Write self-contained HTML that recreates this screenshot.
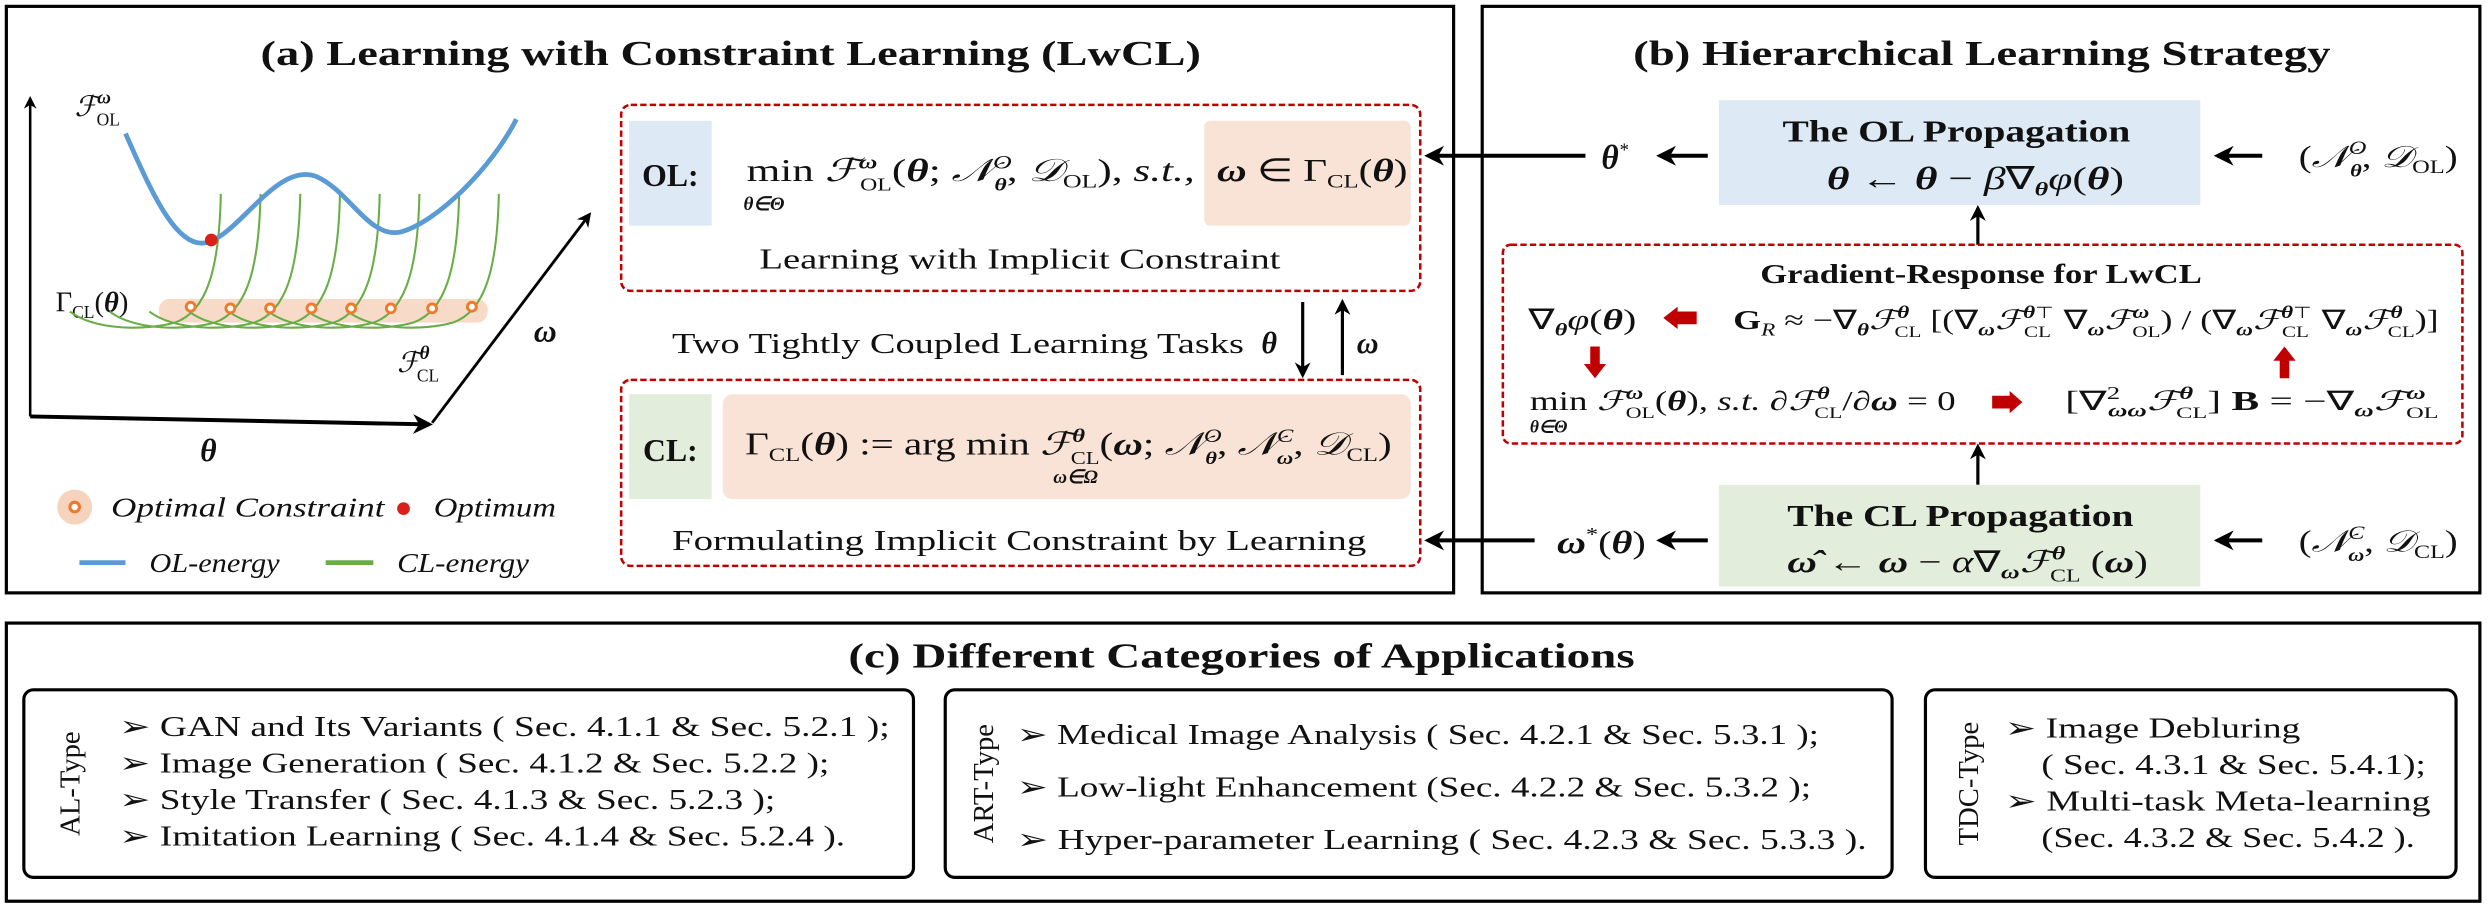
<!DOCTYPE html>
<html><head><meta charset="utf-8"><style>
html,body{margin:0;padding:0;background:#fff;}
svg{display:block;font-family:"Liberation Serif",serif;}
svg text{font-family:"Liberation Serif",serif;fill:#111;}
.b{font-weight:bold;}
.i{font-style:italic;}
</style></head><body>
<svg width="2491" height="906" viewBox="0 0 1568 570" preserveAspectRatio="none" xmlns="http://www.w3.org/2000/svg" font-family="Liberation Serif, serif">
<defs>
<marker id="ah" viewBox="0 0 10 10" refX="8" refY="5" markerWidth="5" markerHeight="5" orient="auto"><path d="M0,0 L10,5 L0,10 L3,5 z" fill="#000"/></marker>
</defs>
<rect x="4" y="4" width="911" height="369" fill="none" stroke="#000" stroke-width="2"/>
<rect x="933" y="4" width="628" height="369" fill="none" stroke="#000" stroke-width="2"/>
<rect x="4" y="392" width="1557" height="175" fill="none" stroke="#000" stroke-width="2"/>

<!-- (a) -->
<text x="164" y="41" font-size="22" class="b" textLength="592" lengthAdjust="spacingAndGlyphs">(a) Learning with Constraint Learning (LwCL)</text>
<line x1="19" y1="262" x2="19" y2="62" stroke="#000" stroke-width="1.6" marker-end="url(#ah)"/>
<line x1="19" y1="262" x2="270" y2="267" stroke="#000" stroke-width="2.5" marker-end="url(#ah)"/>
<line x1="272" y1="266" x2="371" y2="135" stroke="#000" stroke-width="1.8" marker-end="url(#ah)"/>
<text x="47" y="73" font-size="18" class="i">ℱ<tspan font-size="12" dy="-8" font-weight="bold">ω</tspan><tspan font-size="11" dx="-9" dy="14" font-style="normal">OL</tspan></text>
<text x="126" y="290" font-size="20" class="i b">θ</text>
<text x="336" y="215" font-size="20" class="i b">ω</text>
<text x="250" y="234" font-size="18" class="i">ℱ<tspan font-size="12" dy="-8" font-weight="bold">θ</tspan><tspan font-size="11" dx="-8" dy="14" font-style="normal">CL</tspan></text>
<text x="35" y="196" font-size="18">Γ<tspan font-size="11" dy="4">CL</tspan><tspan dy="-4">(</tspan><tspan class="i b">θ</tspan>)</text>
<rect x="100" y="188" width="207" height="15" rx="7" fill="#f6d3bd" opacity="0.85"/>
<g fill="none" stroke="#6aad46" stroke-width="1.3">
<path d="M139,122 C138,170 130,196 110,203 C92,208 60,208 44,196"/>
<path d="M164,122 C163,170 155,196 135,203 C117,208 85,208 69,196"/>
<path d="M189,122 C188,170 180,196 160,203 C142,208 110,208 94,196"/>
<path d="M214,122 C213,170 205,196 185,203 C167,208 135,208 119,196"/>
<path d="M239,122 C238,170 230,196 210,203 C192,208 160,208 144,196"/>
<path d="M264,122 C263,170 255,196 235,203 C217,208 185,208 169,196"/>
<path d="M289,122 C288,170 280,196 260,203 C242,208 210,208 194,196"/>
<path d="M314,122 C313,170 305,196 285,203 C267,208 235,208 219,196"/>
</g>
<g fill="#fff" stroke="#ee7a2a" stroke-width="1.8">
<circle cx="120" cy="193" r="2.8"/><circle cx="145" cy="194" r="2.8"/><circle cx="170" cy="194" r="2.8"/><circle cx="196" cy="194" r="2.8"/><circle cx="221" cy="194" r="2.8"/><circle cx="246" cy="194" r="2.8"/><circle cx="272" cy="194" r="2.8"/><circle cx="297" cy="193" r="2.8"/>
</g>
<path d="M79,84 C95,120 112,160 132,152 C152,145 175,102 199,111 C220,120 232,150 252,146 C275,140 310,105 325,75" fill="none" stroke="#5b9bd5" stroke-width="3"/>
<circle cx="133" cy="151" r="4" fill="#d9201a"/>
<circle cx="47" cy="319" r="11" fill="#f6d3bd"/><circle cx="47" cy="319" r="3" fill="#fff" stroke="#ee7a2a" stroke-width="2"/>
<text x="70" y="325" font-size="17" class="i" textLength="172" lengthAdjust="spacingAndGlyphs">Optimal Constraint</text>
<circle cx="254" cy="320" r="4" fill="#d9201a"/>
<text x="273" y="325" font-size="17" class="i" textLength="77" lengthAdjust="spacingAndGlyphs">Optimum</text>
<line x1="50" y1="354" x2="79" y2="354" stroke="#5b9bd5" stroke-width="3"/>
<text x="94" y="360" font-size="17" class="i" textLength="82" lengthAdjust="spacingAndGlyphs">OL-energy</text>
<line x1="205" y1="354" x2="235" y2="354" stroke="#6aad46" stroke-width="3"/>
<text x="250" y="360" font-size="17" class="i" textLength="83" lengthAdjust="spacingAndGlyphs">CL-energy</text>

<!-- OL box -->
<rect x="391" y="66" width="503" height="117" rx="6" fill="none" stroke="#c00000" stroke-width="1.6" stroke-dasharray="4,2"/>
<rect x="396" y="76" width="52" height="66" fill="#dde9f5"/>
<text x="422" y="117" font-size="20" class="b" text-anchor="middle">OL:</text>
<rect x="758" y="76" width="130" height="66" rx="4" fill="#f9e3d6"/>
<text x="470" y="114" font-size="20" textLength="282" lengthAdjust="spacingAndGlyphs">min <tspan class="i">ℱ</tspan><tspan font-size="12" dy="-8" class="b i">ω</tspan><tspan font-size="11" dx="-8" dy="14">OL</tspan><tspan dy="-6">(</tspan><tspan class="b i">θ</tspan>; <tspan class="i">𝒩</tspan><tspan font-size="12" dy="-8" class="i">O</tspan><tspan font-size="11" dx="-8" dy="14" class="b i">θ</tspan><tspan dy="-6">, </tspan><tspan class="i">𝒟</tspan><tspan font-size="12" dy="4">OL</tspan><tspan dy="-4">), </tspan><tspan class="i">s.t.,</tspan></text>
<text x="468" y="132" font-size="12" class="b i">θ∈Θ</text>
<text x="766" y="114" font-size="20" textLength="120" lengthAdjust="spacingAndGlyphs"><tspan class="b i">ω</tspan> ∈ Γ<tspan font-size="12" dy="4">CL</tspan><tspan dy="-4">(</tspan><tspan class="b i">θ</tspan>)</text>
<text x="478" y="169" font-size="18" textLength="328" lengthAdjust="spacingAndGlyphs">Learning with Implicit Constraint</text>

<text x="423" y="222" font-size="18" textLength="360" lengthAdjust="spacingAndGlyphs">Two Tightly Coupled Learning Tasks</text>
<text x="794" y="222" font-size="19" class="b i">θ</text>
<line x1="820" y1="190" x2="820" y2="236" stroke="#000" stroke-width="2" marker-end="url(#ah)"/>
<line x1="845" y1="236" x2="845" y2="190" stroke="#000" stroke-width="2" marker-end="url(#ah)"/>
<text x="854" y="222" font-size="19" class="b i">ω</text>

<!-- CL box -->
<rect x="391" y="239" width="503" height="117" rx="6" fill="none" stroke="#c00000" stroke-width="1.6" stroke-dasharray="4,2"/>
<rect x="396" y="248" width="52" height="66" fill="#e2eedb"/>
<text x="422" y="290" font-size="20" class="b" text-anchor="middle">CL:</text>
<rect x="455" y="248" width="433" height="66" rx="6" fill="#f9e3d6"/>
<text x="469" y="286" font-size="20" textLength="407" lengthAdjust="spacingAndGlyphs">Γ<tspan font-size="12" dy="4">CL</tspan><tspan dy="-4">(</tspan><tspan class="b i">θ</tspan>) := arg min <tspan class="i">ℱ</tspan><tspan font-size="12" dy="-8" class="b i">θ</tspan><tspan font-size="11" dx="-7" dy="14">CL</tspan><tspan dy="-6">(</tspan><tspan class="b i">ω</tspan>; <tspan class="i">𝒩</tspan><tspan font-size="12" dy="-8" class="i">O</tspan><tspan font-size="11" dx="-8" dy="14" class="b i">θ</tspan><tspan dy="-6">, </tspan><tspan class="i">𝒩</tspan><tspan font-size="12" dy="-8" class="i">C</tspan><tspan font-size="11" dx="-8" dy="14" class="b i">ω</tspan><tspan dy="-6">, </tspan><tspan class="i">𝒟</tspan><tspan font-size="12" dy="4">CL</tspan><tspan dy="-4">)</tspan></text>
<text x="663" y="304" font-size="12" class="b i">ω∈Ω</text>
<text x="423" y="346" font-size="18" textLength="437" lengthAdjust="spacingAndGlyphs">Formulating Implicit Constraint by Learning</text>

<line x1="998" y1="98" x2="899" y2="98" stroke="#000" stroke-width="2.5" marker-end="url(#ah)"/>
<line x1="966" y1="340" x2="899" y2="340" stroke="#000" stroke-width="2.5" marker-end="url(#ah)"/>

<!-- (b) -->
<text x="1028" y="41" font-size="22" class="b" textLength="439" lengthAdjust="spacingAndGlyphs">(b) Hierarchical Learning Strategy</text>
<rect x="1082" y="63" width="303" height="66" fill="#dde9f5"/>
<text x="1122" y="89" font-size="19" class="b" textLength="219" lengthAdjust="spacingAndGlyphs">The OL Propagation</text>
<text x="1150" y="119" font-size="20" textLength="187" lengthAdjust="spacingAndGlyphs"><tspan class="b i">θ</tspan> ← <tspan class="b i">θ</tspan> − <tspan class="i">β</tspan>∇<tspan font-size="12" dy="4" class="b i">θ</tspan><tspan dy="-4" class="i">φ</tspan>(<tspan class="b i">θ</tspan>)</text>
<text x="1008" y="106" font-size="21" class="b i">θ<tspan font-size="12" dy="-8" font-weight="normal">*</tspan></text>
<line x1="1075" y1="98" x2="1045" y2="98" stroke="#000" stroke-width="2.5" marker-end="url(#ah)"/>
<line x1="1424" y1="98" x2="1396" y2="98" stroke="#000" stroke-width="2.5" marker-end="url(#ah)"/>
<text x="1447" y="105" font-size="19" textLength="100" lengthAdjust="spacingAndGlyphs">(<tspan class="i">𝒩</tspan><tspan font-size="12" dy="-8" class="i">O</tspan><tspan font-size="11" dx="-8" dy="14" class="b i">θ</tspan><tspan dy="-6">, </tspan><tspan class="i">𝒟</tspan><tspan font-size="12" dy="4">OL</tspan><tspan dy="-4">)</tspan></text>

<line x1="1245" y1="154" x2="1245" y2="131" stroke="#000" stroke-width="2" marker-end="url(#ah)"/>
<rect x="946" y="154" width="604" height="125" rx="5" fill="none" stroke="#c00000" stroke-width="1.6" stroke-dasharray="4,2"/>
<text x="1108" y="178" font-size="17" class="b" textLength="278" lengthAdjust="spacingAndGlyphs">Gradient-Response for LwCL</text>
<text x="962" y="207" font-size="18" textLength="68" lengthAdjust="spacingAndGlyphs">∇<tspan font-size="11" dy="4" class="b i">θ</tspan><tspan dy="-4" class="i">φ</tspan>(<tspan class="b i">θ</tspan>)</text>
<path d="M1047,200 L1056,193 L1056,196 L1068,196 L1068,204 L1056,204 L1056,207 z" fill="#c00000"/>
<text x="1091" y="207" font-size="17" textLength="444" lengthAdjust="spacingAndGlyphs"><tspan class="b">G</tspan><tspan font-size="11" dy="4" class="i">R</tspan><tspan dy="-4"> ≈ −∇</tspan><tspan font-size="11" dy="4" class="b i">θ</tspan><tspan dy="-4" class="i">ℱ</tspan><tspan font-size="11" dy="-7" class="b i">θ</tspan><tspan font-size="10" dx="-7" dy="12">CL</tspan><tspan dy="-5"> [(∇</tspan><tspan font-size="11" dy="4" class="b i">ω</tspan><tspan dy="-4" class="i">ℱ</tspan><tspan font-size="11" dy="-7" class="b i">θ</tspan><tspan font-size="10">⊤</tspan><tspan font-size="10" dx="-14" dy="12">CL</tspan><tspan dy="-5" dx="6">∇</tspan><tspan font-size="11" dy="4" class="b i">ω</tspan><tspan dy="-4" class="i">ℱ</tspan><tspan font-size="11" dy="-7" class="b i">ω</tspan><tspan font-size="10" dx="-8" dy="12">OL</tspan><tspan dy="-5">) / (∇</tspan><tspan font-size="11" dy="4" class="b i">ω</tspan><tspan dy="-4" class="i">ℱ</tspan><tspan font-size="11" dy="-7" class="b i">θ</tspan><tspan font-size="10">⊤</tspan><tspan font-size="10" dx="-14" dy="12">CL</tspan><tspan dy="-5" dx="6">∇</tspan><tspan font-size="11" dy="4" class="b i">ω</tspan><tspan dy="-4" class="i">ℱ</tspan><tspan font-size="11" dy="-7" class="b i">θ</tspan><tspan font-size="10" dx="-7" dy="12">CL</tspan><tspan dy="-5">)]</tspan></text>
<path d="M1004,238 L997,229 L1001,229 L1001,218 L1007,218 L1007,229 L1011,229 z" fill="#c00000"/>
<path d="M1438,218 L1431,227 L1435,227 L1435,238 L1441,238 L1441,227 L1445,227 z" fill="#c00000"/>
<text x="963" y="258" font-size="17" textLength="268" lengthAdjust="spacingAndGlyphs">min <tspan class="i">ℱ</tspan><tspan font-size="11" dy="-7" class="b i">ω</tspan><tspan font-size="10" dx="-8" dy="12">OL</tspan><tspan dy="-5">(</tspan><tspan class="b i">θ</tspan>),  <tspan class="i">s.t.</tspan> ∂<tspan class="i">ℱ</tspan><tspan font-size="11" dy="-7" class="b i">θ</tspan><tspan font-size="10" dx="-7" dy="12">CL</tspan><tspan dy="-5">/∂</tspan><tspan class="b i">ω</tspan> = 0</text>
<text x="963" y="272" font-size="11" class="b i">θ∈Θ</text>
<path d="M1273,253 L1265,246 L1265,249 L1254,249 L1254,257 L1265,257 L1265,260 z" fill="#c00000"/>
<text x="1300" y="258" font-size="17" textLength="235" lengthAdjust="spacingAndGlyphs">[∇<tspan font-size="11" dy="-7">2</tspan><tspan font-size="11" dx="-5" dy="11" class="b i">ωω</tspan><tspan dy="-4" class="i">ℱ</tspan><tspan font-size="11" dy="-7" class="b i">θ</tspan><tspan font-size="10" dx="-7" dy="12">CL</tspan><tspan dy="-5">] </tspan><tspan class="b">B</tspan> = −∇<tspan font-size="11" dy="4" class="b i">ω</tspan><tspan dy="-4" class="i">ℱ</tspan><tspan font-size="11" dy="-7" class="b i">ω</tspan><tspan font-size="10" dx="-8" dy="12">OL</tspan></text>
<line x1="1245" y1="305" x2="1245" y2="281" stroke="#000" stroke-width="2" marker-end="url(#ah)"/>

<rect x="1082" y="305" width="303" height="64" fill="#e2eedb"/>
<text x="1125" y="331" font-size="19" class="b" textLength="218" lengthAdjust="spacingAndGlyphs">The CL Propagation</text>
<text x="1125" y="360" font-size="19" textLength="227" lengthAdjust="spacingAndGlyphs"><tspan class="b i">ω̂</tspan> ← <tspan class="b i">ω</tspan> − <tspan class="i">α</tspan>∇<tspan font-size="12" dy="4" class="b i">ω</tspan><tspan dy="-4" class="i">ℱ</tspan><tspan font-size="12" dy="-8" class="b i">θ</tspan><tspan font-size="11" dx="-7" dy="14">CL</tspan><tspan dy="-6"> (</tspan><tspan class="b i">ω</tspan>)</text>
<text x="980" y="348" font-size="20" textLength="56" lengthAdjust="spacingAndGlyphs"><tspan class="b i">ω</tspan><tspan font-size="12" dy="-8">*</tspan><tspan dy="8">(</tspan><tspan class="b i">θ</tspan>)</text>
<line x1="1075" y1="340" x2="1045" y2="340" stroke="#000" stroke-width="2.5" marker-end="url(#ah)"/>
<line x1="1424" y1="340" x2="1396" y2="340" stroke="#000" stroke-width="2.5" marker-end="url(#ah)"/>
<text x="1447" y="347" font-size="19" textLength="100" lengthAdjust="spacingAndGlyphs">(<tspan class="i">𝒩</tspan><tspan font-size="12" dy="-8" class="i">C</tspan><tspan font-size="11" dx="-8" dy="14" class="b i">ω</tspan><tspan dy="-6">, </tspan><tspan class="i">𝒟</tspan><tspan font-size="12" dy="4">CL</tspan><tspan dy="-4">)</tspan></text>

<!-- (c) -->
<text x="534" y="420" font-size="22" class="b" textLength="495" lengthAdjust="spacingAndGlyphs">(c) Different Categories of Applications</text>
<rect x="15" y="434" width="560" height="118" rx="6" fill="none" stroke="#000" stroke-width="2"/>
<rect x="595" y="434" width="596" height="118" rx="6" fill="none" stroke="#000" stroke-width="2"/>
<rect x="1212" y="434" width="334" height="118" rx="6" fill="none" stroke="#000" stroke-width="2"/>
<text transform="translate(50,493) rotate(-90)" font-size="18" text-anchor="middle">AL-Type</text>
<text transform="translate(625,493) rotate(-90)" font-size="18" text-anchor="middle">ART-Type</text>
<text transform="translate(1245,493) rotate(-90)" font-size="18" text-anchor="middle">TDC-Type</text>
<g font-size="18">
<text x="75" y="463" textLength="485" lengthAdjust="spacingAndGlyphs">➢ GAN and Its Variants ( Sec. 4.1.1 &amp; Sec. 5.2.1 );</text>
<text x="75" y="486" textLength="447" lengthAdjust="spacingAndGlyphs">➢ Image Generation ( Sec. 4.1.2 &amp; Sec. 5.2.2 );</text>
<text x="75" y="509" textLength="413" lengthAdjust="spacingAndGlyphs">➢ Style Transfer ( Sec. 4.1.3 &amp; Sec. 5.2.3 );</text>
<text x="75" y="532" textLength="457" lengthAdjust="spacingAndGlyphs">➢ Imitation Learning ( Sec. 4.1.4 &amp; Sec. 5.2.4 ).</text>
<text x="640" y="468" textLength="505" lengthAdjust="spacingAndGlyphs">➢ Medical Image Analysis ( Sec. 4.2.1 &amp; Sec. 5.3.1 );</text>
<text x="640" y="501" textLength="500" lengthAdjust="spacingAndGlyphs">➢ Low-light Enhancement (Sec. 4.2.2 &amp; Sec. 5.3.2 );</text>
<text x="640" y="534" textLength="535" lengthAdjust="spacingAndGlyphs">➢ Hyper-parameter Learning ( Sec. 4.2.3 &amp; Sec. 5.3.3 ).</text>
<text x="1262" y="464" textLength="186" lengthAdjust="spacingAndGlyphs">➢ Image Debluring</text>
<text x="1285" y="487" textLength="242" lengthAdjust="spacingAndGlyphs">( Sec. 4.3.1 &amp; Sec. 5.4.1);</text>
<text x="1262" y="510" textLength="268" lengthAdjust="spacingAndGlyphs">➢ Multi-task Meta-learning</text>
<text x="1285" y="533" textLength="235" lengthAdjust="spacingAndGlyphs">(Sec. 4.3.2 &amp; Sec. 5.4.2 ).</text>
</g>
</svg>
</body></html>
